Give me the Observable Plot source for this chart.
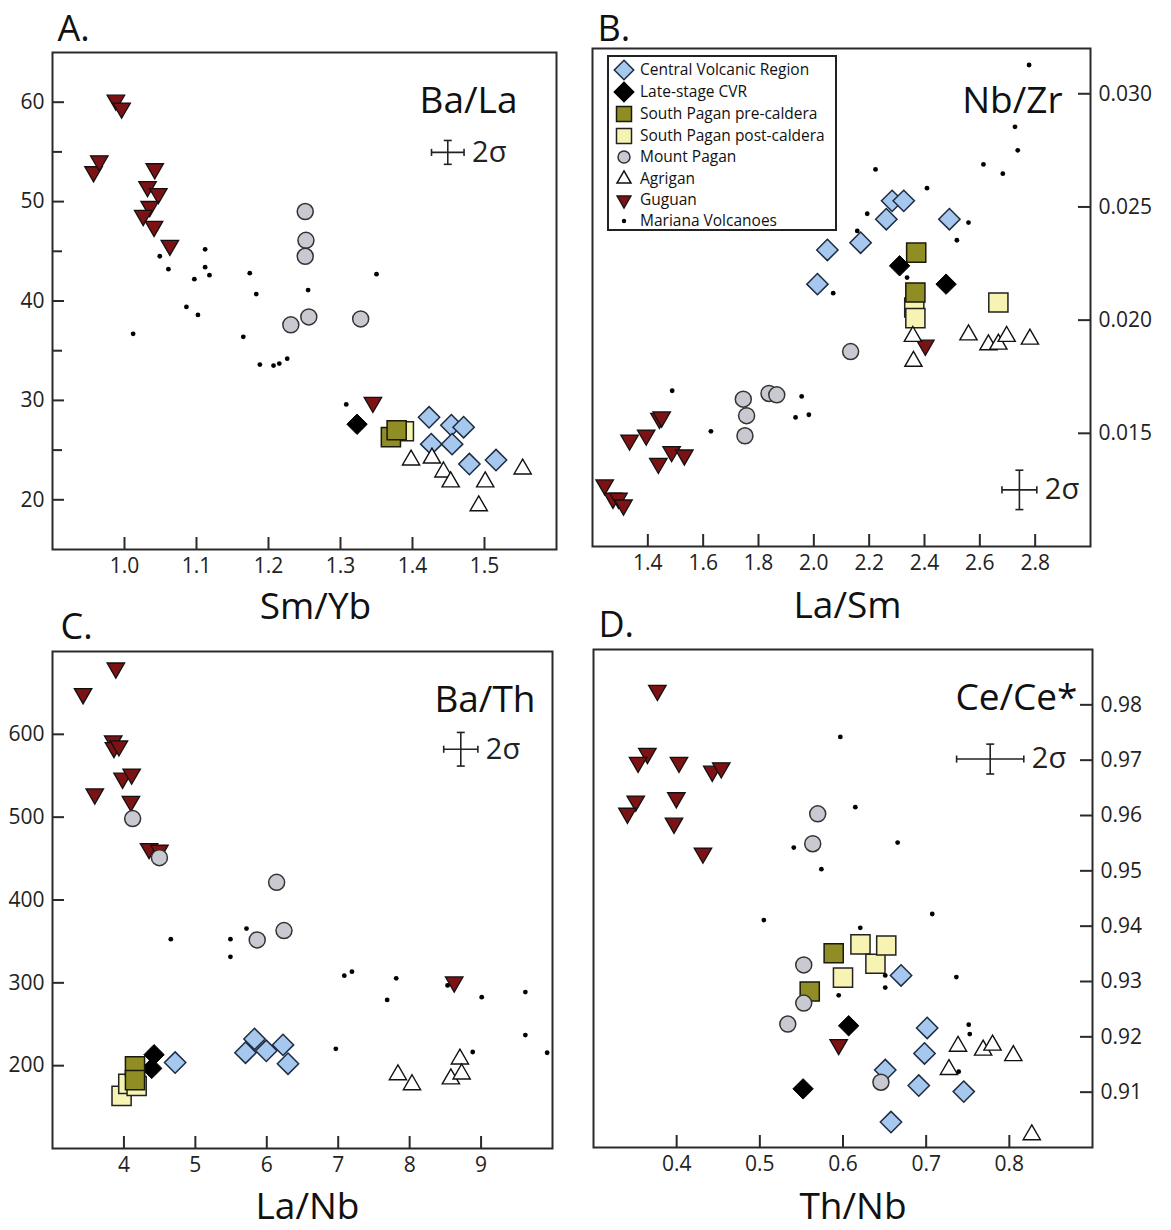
<!DOCTYPE html>
<html><head><meta charset="utf-8">
<script src="https://cdn.jsdelivr.net/npm/d3@7"></script>
<script src="https://cdn.jsdelivr.net/npm/@observablehq/plot@0.6"></script>
<style>
body{margin:0;background:#fff;font-family:"Open Sans",sans-serif;}
#wrap{position:relative;width:1171px;height:1230px;overflow:hidden;background:#fff;}
#wrap svg{position:absolute;overflow:visible;}
</style></head><body><div id="wrap"></div>
<script>
// ---------- DATA ----------
// Panel A: Sm/Yb (x) vs Ba/La (y)
const A_CVR = [[1.423,28.3],[1.454,27.5],[1.471,27.3],[1.426,25.6],[1.455,25.6],[1.479,23.6],[1.516,24.0]];
const A_Late = [[1.323,27.6]];
const A_Pre = [[1.370,26.3],[1.378,27.0]];
const A_Post = [[1.388,26.9]];
const A_Guguan = [[0.988,60.2],[0.996,59.4],[0.957,53.0],[0.965,54.1],[1.042,53.3],[1.032,51.5],[1.047,50.8],[1.035,49.5],[1.026,48.6],[1.041,47.5],[1.063,45.6],[1.345,29.8]];
const A_Pagan = [[1.251,49.0],[1.252,46.1],[1.251,44.5],[1.231,37.6],[1.256,38.4],[1.328,38.2]];
const A_Agrigan = [[1.398,24.0],[1.427,24.2],[1.443,22.8],[1.453,21.8],[1.501,21.8],[1.492,19.4],[1.553,23.1]];
const A_Mariana = [[1.049,44.5],[1.061,43.2],[1.112,45.2],[1.112,43.4],[1.118,42.6],[1.097,42.2],[1.174,42.8],[1.183,40.7],[1.012,36.7],[1.086,39.4],[1.102,38.6],[1.165,36.4],[1.188,33.6],[1.207,33.5],[1.215,33.7],[1.226,34.2],[1.255,41.1],[1.308,29.6],[1.350,42.7]];
const A_sigma = [{x:1.449, y:54.95, ex:0.0226, ey:1.2}];
const A_xTicks = [1.0,1.1,1.2,1.3,1.4,1.5];
const A_yTicks = [20,30,40,50,60];
const A_yMinor = [25,35,45,55];

// Panel B: La/Sm (x) vs Nb/Zr (y)
const B_CVR = [[2.049,0.0231],[2.169,0.02342],[2.013,0.02159],[2.283,0.02527],[2.325,0.02527],[2.262,0.02446],[2.490,0.02446]];
const B_Late = [[2.310,0.02240],[2.478,0.02159]];
const B_Pre = [[2.370,0.02298],[2.367,0.02122]];
const B_Post = [[2.363,0.02056],[2.367,0.02009],[2.667,0.02078]];
const B_Guguan = [[2.403,0.01889],[1.442,0.01566],[1.450,0.01572],[1.334,0.01470],[1.394,0.01492],[1.438,0.01367],[1.486,0.01419],[1.532,0.01404],[1.244,0.01272],[1.274,0.01213],[1.294,0.01213],[1.312,0.01183]];
const B_Pagan = [[1.745,0.01651],[1.757,0.01578],[1.751,0.01489],[1.838,0.01676],[1.866,0.01670],[2.133,0.01861]];
const B_Agrigan = [[2.358,0.01928],[2.360,0.01818],[2.559,0.01935],[2.631,0.01891],[2.667,0.01894],[2.697,0.01928],[2.781,0.01916]];
const B_Mariana = [[1.488,0.01688],[1.628,0.01509],[1.956,0.01663],[1.934,0.01570],[1.982,0.01582],[2.070,0.02119],[2.223,0.02666],[2.193,0.02470],[2.157,0.02394],[2.778,0.03127],[2.727,0.02854],[2.737,0.02750],[2.613,0.02688],[2.683,0.02647],[2.409,0.02583],[2.559,0.02431],[2.517,0.02353],[2.337,0.02188]];
const B_sigma = [{x:2.743, y:0.0125, ex:0.063, ey:0.00087}];
const B_xTicks = [1.4,1.6,1.8,2.0,2.2,2.4,2.6,2.8];
const B_yTicks = [0.015,0.020,0.025,0.030];

// Panel C: La/Nb (x) vs Ba/Th (y)
const C_CVR = [[4.717,203.8],[5.702,215.6],[5.828,232.2],[5.993,218.0],[6.227,225.1],[6.297,202.4]];
const C_Late = [[4.422,213.2],[4.389,196.7]];
const C_Pre = [[4.155,199.1],[4.155,182.5]];
const C_Post = [[3.967,163.6],[4.061,178.0],[4.178,175.4]];
const C_Guguan = [[3.887,680],[3.428,649],[3.850,592],[3.860,584],[3.930,586],[3.592,528],[3.981,547],[4.108,552],[4.098,519],[4.352,462],[4.497,460],[8.624,301]];
const C_Pagan = [[4.122,498.3],[4.497,451.1],[6.138,421.3],[5.866,351.8],[6.241,363.1]];
const C_Agrigan = [[7.836,189],[8.033,177],[8.577,184],[8.704,208],[8.728,190]];
const C_Mariana = [[4.656,352.7],[5.491,352.7],[5.491,331.4],[5.716,365.5],[7.085,308.7],[7.192,313.5],[7.812,305.4],[7.685,279.4],[8.531,296.9],[9.009,282.7],[9.620,288.9],[9.620,236.9],[9.925,215.6],[8.883,216.5],[6.967,220.3]];
const C_sigma = [{x:8.716, y:582, ex:0.239, ey:20.3}];
const C_xTicks = [4,5,6,7,8,9];
const C_yTicks = [200,300,400,500,600];

// Panel D: Th/Nb (x) vs Ce/Ce* (y)
const D_CVR = [[0.6698,0.9311],[0.7012,0.9216],[0.6980,0.9170],[0.6508,0.9140],[0.6911,0.9112],[0.7452,0.9101],[0.6577,0.9046]];
const D_Late = [[0.6068,0.9220],[0.5520,0.9106]];
const D_Pre = [[0.5888,0.9351],[0.5600,0.9282]];
const D_Post = [[0.621,0.9367],[0.639,0.9332],[0.652,0.9365],[0.600,0.9307]];
const D_Guguan = [[0.3768,0.9826],[0.3648,0.9712],[0.3536,0.9696],[0.4028,0.9696],[0.4428,0.9680],[0.4536,0.9686],[0.3996,0.9632],[0.3508,0.9626],[0.3408,0.9604],[0.3968,0.9586],[0.4316,0.9532],[0.5948,0.9186]];
const D_Pagan = [[0.5696,0.9603],[0.5636,0.9549],[0.5528,0.9330],[0.5528,0.9261],[0.5336,0.9223],[0.6456,0.9118]];
const D_Agrigan = [[0.7383,0.9183],[0.7685,0.9176],[0.7798,0.9185],[0.8048,0.9166],[0.7274,0.9141],[0.8270,0.9023]];
const D_Mariana = [[0.5968,0.9742],[0.6148,0.9615],[0.5408,0.9542],[0.5740,0.9503],[0.5048,0.9411],[0.6208,0.9397],[0.5948,0.9275],[0.6657,0.9551],[0.7073,0.9422],[0.6508,0.9311],[0.6508,0.9289],[0.7363,0.9308],[0.7512,0.9222],[0.7524,0.9205],[0.7391,0.9137]];
const D_sigma = [{x:0.777, y:0.9702, ex:0.0404, ey:0.0027}];
const D_xTicks = [0.4,0.5,0.6,0.7,0.8];
const D_yTicks = [0.91,0.92,0.93,0.94,0.95,0.96,0.97,0.98];

const legendLabels = ["Central Volcanic Region","Late-stage CVR","South Pagan pre-caldera","South Pagan post-caldera","Mount Pagan","Agrigan","Guguan","Mariana Volcanoes"];

// ---------- STYLES ----------
const FONT = "'Open Sans', sans-serif";
const INK = "#222";
const triDown = {draw(ctx, size){const y = Math.sqrt(size/(Math.sqrt(3)*3)); const s = Math.sqrt(3)*y; ctx.moveTo(0,2*y); ctx.lineTo(s,-y); ctx.lineTo(-s,-y); ctx.closePath();}};
const vCap = {draw(ctx, size){const h = Math.sqrt(size)/2; ctx.moveTo(0,-h); ctx.lineTo(0,h);}};
const hCap = {draw(ctx, size){const h = Math.sqrt(size)/2; ctx.moveTo(-h,0); ctx.lineTo(h,0);}};
const ST = {
  cvr: {symbol:"diamond2", r:9.6, fill:"#a7c8ee", stroke:"#1d2b40", strokeWidth:1.5},
  late: {symbol:"diamond2", r:9.2, fill:"#000", stroke:"#000", strokeWidth:1},
  pre: {symbol:"square", r:10.8, fill:"#8f8d24", stroke:"#1a1a0a", strokeWidth:1.5},
  post: {symbol:"square", r:10.8, fill:"#f7f3b3", stroke:"#222", strokeWidth:1.5},
  guguan: {symbol:triDown, r:6.5, fill:"#7d1214", stroke:"#111", strokeWidth:1.3},
  pagan: {symbol:"circle", r:8, fill:"#c9c9d2", stroke:"#333", strokeWidth:1.5},
  agrigan: {symbol:"triangle", r:6.4, fill:"#fff", stroke:"#111", strokeWidth:1.4},
  mariana: {symbol:"circle", r:2.4, fill:"#000", stroke:"none"}
};
const dots = (data, st) => Plot.dot(data, {x: d => d[0], y: d => d[1], ...st});

function sigmaMarks(s) {
  return [
    Plot.link(s, {x1: d => d.x - d.ex, x2: d => d.x + d.ex, y1: d => d.y, y2: d => d.y, stroke: INK, strokeWidth: 1.6}),
    Plot.link(s, {x1: d => d.x, x2: d => d.x, y1: d => d.y - d.ey, y2: d => d.y + d.ey, stroke: INK, strokeWidth: 1.6}),
    Plot.dot(s, {x: d => d.x - d.ex, y: d => d.y, symbol: vCap, r: 4, fill: "none", stroke: INK, strokeWidth: 1.6}),
    Plot.dot(s, {x: d => d.x + d.ex, y: d => d.y, symbol: vCap, r: 4, fill: "none", stroke: INK, strokeWidth: 1.6}),
    Plot.dot(s, {x: d => d.x, y: d => d.y - d.ey, symbol: hCap, r: 4.5, fill: "none", stroke: INK, strokeWidth: 1.6}),
    Plot.dot(s, {x: d => d.x, y: d => d.y + d.ey, symbol: hCap, r: 4.5, fill: "none", stroke: INK, strokeWidth: 1.6}),
    Plot.text(s, {x: d => d.x + d.ex, y: d => d.y, text: () => "2σ", textAnchor: "start", lineAnchor: "middle", dx: 8, fontSize: 29, fill: INK})
  ];
}

function panel(c) {
  const iw = c.width - c.ml - c.mr, ih = c.height - c.mt - c.mb;
  const yAnchor = c.yRight ? "right" : "left";
  const tick = {stroke: "#2a2a2a", strokeWidth: 2};
  const yTickInset = c.yRight ? {insetLeft: iw - 12} : {insetRight: iw - 12};
  const yMinorInset = c.yRight ? {insetLeft: iw - 10} : {insetRight: iw - 10};
  const s = c.sets;
  const marks = [
    dots(s.cvr, ST.cvr), dots(s.late, ST.late), dots(s.post, ST.post), dots(s.pre, ST.pre),
    dots(s.guguan, ST.guguan), dots(s.pagan, ST.pagan), dots(s.agrigan, ST.agrigan), dots(s.mariana, ST.mariana),
    ...sigmaMarks(c.sigma),
    Plot.ruleX(c.xTicks, {x: d => d, insetTop: ih - 12, ...tick}),
    Plot.ruleY(c.yTicks, {y: d => d, ...yTickInset, ...tick}),
    Plot.ruleY(c.yMinor || [], {y: d => d, ...yMinorInset, ...tick}),
    Plot.axisX({ticks: c.xTicks, tickSize: 0, tickPadding: 9, tickFormat: c.xFmt, fontSize: 21, label: null, fill: INK}),
    Plot.axisY({anchor: yAnchor, ticks: c.yTicks, tickSize: 0, tickPadding: 8, tickFormat: c.yFmt, fontSize: 21, label: null, fill: INK}),
    Plot.frame({stroke: "#2a2a2a", strokeWidth: 2}),
    Plot.text([c.letter], {text: d => d, frameAnchor: "top-left", textAnchor: "start", lineAnchor: "bottom", dx: c.letterDx, dy: c.letterDy, fontSize: 36, fill: "#111"}),
    Plot.text([c.title], {text: d => d, frameAnchor: "top-right", textAnchor: "end", lineAnchor: "bottom", dx: c.titleDx, dy: c.titleDy, fontSize: 37, fill: "#111"}),
    Plot.text([c.xTitle], {text: d => d, frameAnchor: "bottom", textAnchor: "middle", lineAnchor: "bottom", dx: c.xTitleDx, dy: c.xTitleDy, fontSize: 37, fill: "#111"})
  ];
  const svg = Plot.plot({
    width: c.width, height: c.height,
    marginTop: c.mt, marginRight: c.mr, marginBottom: c.mb, marginLeft: c.ml,
    x: {domain: c.xDomain, label: null},
    y: {domain: c.yDomain, label: null},
    style: {fontFamily: FONT, fontSize: "21px", color: INK, background: "transparent", overflow: "visible"},
    marks
  });
  svg.style.left = c.left + "px";
  svg.style.top = c.top + "px";
  document.getElementById("wrap").appendChild(svg);
}

const f1 = d3.format(".1f"), f2 = d3.format(".2f"), f3 = d3.format(".3f"), f0 = d3.format("d");

panel({left:0, top:0, width:590, height:640, mt:52, mr:34, mb:91, ml:52,
  xDomain:[0.9,1.6], yDomain:[15,65], xTicks:A_xTicks, yTicks:A_yTicks, yMinor:A_yMinor, xFmt:f1, yFmt:f0,
  sets:{cvr:A_CVR, late:A_Late, pre:A_Pre, post:A_Post, guguan:A_Guguan, pagan:A_Pagan, agrigan:A_Agrigan, mariana:A_Mariana},
  sigma:A_sigma, letter:"A.", letterDx:5, letterDy:-12, title:"Ba/La", titleDx:-39, titleDy:60, xTitle:"Sm/Yb", xTitleDx:11, xTitleDy:69});

panel({left:585, top:0, width:586, height:640, mt:48, mr:81, mb:94, ml:7, yRight:true,
  xDomain:[1.2,3.0], yDomain:[0.010,0.032], xTicks:B_xTicks, yTicks:B_yTicks, xFmt:f1, yFmt:f3,
  sets:{cvr:B_CVR, late:B_Late, pre:B_Pre, post:B_Post, guguan:B_Guguan, pagan:B_Pagan, agrigan:B_Agrigan, mariana:B_Mariana},
  sigma:B_sigma, letter:"B.", letterDx:5, letterDy:-8, title:"Nb/Zr", titleDx:-28, titleDy:64, xTitle:"La/Sm", xTitleDx:6, xTitleDy:71});

panel({left:0, top:600, width:590, height:630, mt:51, mr:38, mb:82, ml:52,
  xDomain:[3,10], yDomain:[100,700], xTicks:C_xTicks, yTicks:C_yTicks, xFmt:f0, yFmt:f0,
  sets:{cvr:C_CVR, late:C_Late, pre:C_Pre, post:C_Post, guguan:C_Guguan, pagan:C_Pagan, agrigan:C_Agrigan, mariana:C_Mariana},
  sigma:C_sigma, letter:"C.", letterDx:8, letterDy:-13, title:"Ba/Th", titleDx:-17, titleDy:60, xTitle:"La/Nb", xTitleDx:5, xTitleDy:70});

panel({left:585, top:600, width:586, height:630, mt:49, mr:79, mb:83, ml:8, yRight:true,
  xDomain:[0.3,0.9], yDomain:[0.90,0.99], xTicks:D_xTicks, yTicks:D_yTicks, xFmt:f1, yFmt:f2,
  sets:{cvr:D_CVR, late:D_Late, pre:D_Pre, post:D_Post, guguan:D_Guguan, pagan:D_Pagan, agrigan:D_Agrigan, mariana:D_Mariana},
  sigma:D_sigma, letter:"D.", letterDx:5, letterDy:-13, title:"Ce/Ce*", titleDx:-15, titleDy:60, xTitle:"Th/Nb", xTitleDx:10, xTitleDy:71});

// ---------- LEGEND (inside panel B) ----------
(function(){
  const rowY = [15,37,59,81,102,124,145,166];
  const keys = ["cvr","late","pre","post","pagan","agrigan","guguan","mariana"];
  const svg = d3.select("#wrap").append("svg")
    .attr("width", 230).attr("height", 176)
    .style("left", "607px").style("top", "55px");
  svg.append("rect").attr("x",1).attr("y",1).attr("width",228).attr("height",174)
    .attr("fill","#fff").attr("stroke","#222").attr("stroke-width",2);
  keys.forEach((k, i) => {
    const g = svg.append("g").attr("transform", `translate(17,${rowY[i]})`);
    const st = ST[k];
    if (k === "cvr" || k === "late") {
      g.append("path").attr("d", d3.symbol(d3.symbolDiamond2, 240)()).attr("fill", st.fill).attr("stroke", st.stroke).attr("stroke-width", 1.5);
    } else if (k === "pre" || k === "post") {
      g.append("path").attr("d", d3.symbol(d3.symbolSquare, 225)()).attr("fill", st.fill).attr("stroke", st.stroke).attr("stroke-width", 1.5);
    } else if (k === "pagan") {
      g.append("circle").attr("r", 6).attr("fill", st.fill).attr("stroke", st.stroke).attr("stroke-width", 1.5);
    } else if (k === "agrigan") {
      g.append("path").attr("d", d3.symbol(d3.symbolTriangle, 85)()).attr("fill", st.fill).attr("stroke", st.stroke).attr("stroke-width", 1.5);
    } else if (k === "guguan") {
      g.append("path").attr("d", d3.symbol(triDown, 85)()).attr("fill", st.fill).attr("stroke", st.stroke).attr("stroke-width", 1.3);
    } else {
      g.append("circle").attr("r", 2.2).attr("fill", "#000");
    }
    svg.append("text").attr("x", 33).attr("y", rowY[i]).attr("dy", "0.35em")
      .attr("font-family", FONT).attr("font-size", 15.5).attr("fill", "#111").text(legendLabels[i]);
  });
})();
</script>
</body></html>
